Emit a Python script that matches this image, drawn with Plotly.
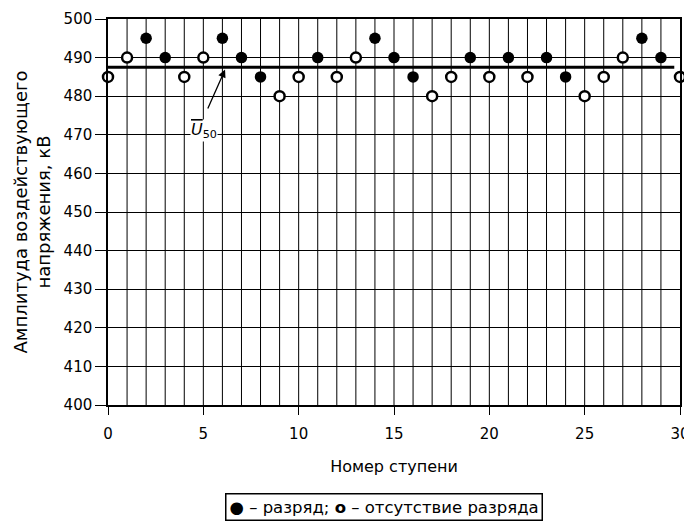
import plotly.graph_objects as go

steps = list(range(0, 31))
voltages = [485, 490, 495, 490, 485, 490, 495, 490, 485, 480,
            485, 490, 485, 490, 495, 490, 485, 480, 485, 490,
            485, 490, 485, 490, 485, 480, 485, 490, 495, 490, 485]
discharge = [0, 0, 1, 1, 0, 0, 1, 1, 1, 0,
             0, 1, 0, 0, 1, 1, 1, 0, 0, 1,
             0, 1, 0, 1, 1, 0, 0, 0, 1, 1, 0]
u50 = 487.5
u50_x = [0, 29.7]

fx = [s for s, d in zip(steps, discharge) if d]
fy = [v for v, d in zip(voltages, discharge) if d]
ox = [s for s, d in zip(steps, discharge) if not d]
oy = [v for v, d in zip(voltages, discharge) if not d]

FONT = "DejaVu Sans, Arial, sans-serif"

fig = go.Figure()
fig.add_trace(go.Scatter(x=u50_x, y=[u50, u50], mode="lines",
                         line=dict(color="black", width=3), showlegend=False,
                         cliponaxis=False))
fig.add_trace(go.Scatter(x=fx, y=fy, mode="markers", name="разряд",
                         marker=dict(symbol="circle", size=11.5, color="black",
                                     line=dict(width=0)),
                         showlegend=False, cliponaxis=False))
fig.add_trace(go.Scatter(x=ox, y=oy, mode="markers", name="отсутствие разряда",
                         marker=dict(symbol="circle", size=10, color="white",
                                     line=dict(width=2.5, color="black")),
                         showlegend=False, cliponaxis=False))

fig.add_annotation(x=6.14, y=486.9, ax=5.2, ay=476.4, xref="x", yref="y",
                   axref="x", ayref="y", text="", showarrow=True,
                   arrowhead=2, arrowsize=1.2, arrowwidth=1.3, arrowcolor="black")
fig.add_annotation(x=5.03, y=471.0, xref="x", yref="y",
                   text="<span style='text-decoration:overline'><i>U</i></span><sub>50</sub>",
                   showarrow=False, font=dict(family=FONT, size=16, color="black"),
                   bgcolor="white", borderpad=0)

fig.add_annotation(x=0.483, y=-0.265, xref="paper", yref="paper",
                   text="<b>●</b> – разряд; <b>o</b> – отсутствие разряда",
                   showarrow=False, font=dict(family=FONT, size=16.5, color="black"),
                   bordercolor="black", borderwidth=1.5, borderpad=3,
                   bgcolor="white", yanchor="middle")

fig.update_xaxes(range=[0, 30], tickmode="array", tickvals=list(range(0, 31, 5)),
                 ticks="outside", ticklen=8, tickcolor="black", tickwidth=1,
                 ticklabelstandoff=6, ticklabeloverflow="allow",
                 showgrid=False, zeroline=False, automargin=False,
                 showline=True, linecolor="black", linewidth=1.5, mirror=True,
                 tickfont=dict(family=FONT, size=15, color="black"),
                 title=dict(text="Номер ступени", font=dict(family=FONT, size=16, color="black"),
                            standoff=19))
fig.update_yaxes(range=[400, 500], dtick=10, ticks="outside", ticklen=11,
                 tickcolor="black", tickwidth=1, automargin=False,
                 showgrid=True, gridcolor="black", gridwidth=1, zeroline=False,
                 showline=True, linecolor="black", linewidth=1.5, mirror=True,
                 tickfont=dict(family=FONT, size=15, color="black"),
                 title=dict(text="Амплитуда воздействующего<br>напряжения, кВ",
                            font=dict(family=FONT, size=18, color="black"),
                            standoff=8))

# vertical grid lines at every step
for s in steps[1:-1]:
    fig.add_vline(x=s, line=dict(color="black", width=1), layer="below")

fig.update_layout(width=684, height=513, margin=dict(l=100, r=12, t=11, b=116),
                  plot_bgcolor="white", paper_bgcolor="white", showlegend=False)

fig.write_html("out.html")
